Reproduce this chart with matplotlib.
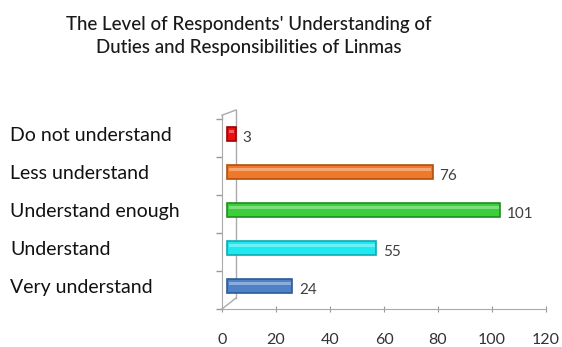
import matplotlib
matplotlib.use("Agg")
import matplotlib.pyplot as plt
from matplotlib.lines import Line2D

categories = ["Very understand", "Understand", "Understand enough", "Less understand", "Do not understand"]
values = [24, 55, 101, 76, 3]
colors = ["#4f81c8", "#1ee8f0", "#3ccf3c", "#f0782a", "#e81010"]
edges = ["#2d5a96", "#10aab0", "#1f8f1f", "#b05010", "#a00000"]
xticks = [0, 20, 40, 60, 80, 100, 120]
title = "The Level of Respondents' Understanding of\nDuties and Responsibilities of Linmas"

plt.rcParams['font.family'] = ['Lato', 'DejaVu Sans']

fig = plt.figure(figsize=(5.62, 3.47), dpi=100)
ax = fig.add_axes([222/562, 1-309/347, 324/562, 190/347])

dx, dy = 2.0, 0.1  # depth shift of bars
ys = [i + dy for i in range(len(categories))]
ax.barh(ys, values, left=dx, height=0.38, color=colors, edgecolor=edges, linewidth=1.2, zorder=3)
# highlight stripe
ax.barh([y + 0.07 for y in ys], [v - 1 for v in values], left=dx + 0.5, height=0.08,
        color="white", alpha=0.35, linewidth=0, zorder=4)

for y, v in zip(ys, values):
    ax.annotate(str(v), (v + dx, y), xytext=(5, -3), textcoords="offset points",
                va="center", ha="left", fontsize=11, color="#404040")

ax.set_xlim(0, 120)
ax.set_ylim(-0.5, 4.5)
ax.set_xticks(xticks)
ax.tick_params(axis="x", length=4, color="#999999", labelsize=11.5, labelcolor="#333333", pad=15, direction="inout")
ax.set_yticks(ys)
ax.set_yticklabels(categories)
ax.tick_params(axis="y", length=0, pad=212*0.72, labelsize=14, labelcolor="#111111")
for lab in ax.get_yticklabels():
    lab.set_horizontalalignment("left")
ax.set_yticks([i - 0.5 for i in range(len(categories) + 1)], minor=True)
ax.tick_params(axis="y", which="minor", length=4, color="#999999", width=1)

for s in ["top", "right"]:
    ax.spines[s].set_visible(False)
ax.spines["left"].set_color("#aaaaaa")
ax.spines["bottom"].set_color("#aaaaaa")

# 3D back wall
bx, by_b, by_t = 14/324, 11/190, 199/190
wall = [((0, 0), (bx, by_b)), ((bx, by_b), (bx, by_t)), ((0, 1.02), (bx, by_t)), ((0, 1.0), (0, 1.02))]
for (x0, y0), (x1, y1) in wall:
    ax.add_line(Line2D([x0, x1], [y0, y1], transform=ax.transAxes, color="#aaaaaa", lw=1, clip_on=False))

fig.text(0.443, 1-36/347, title, ha="center", va="center", fontsize=13.5, color="#1a1a1a",
         linespacing=1.45, fontweight="medium")

fig.savefig("out.png", dpi=100, facecolor="white")
